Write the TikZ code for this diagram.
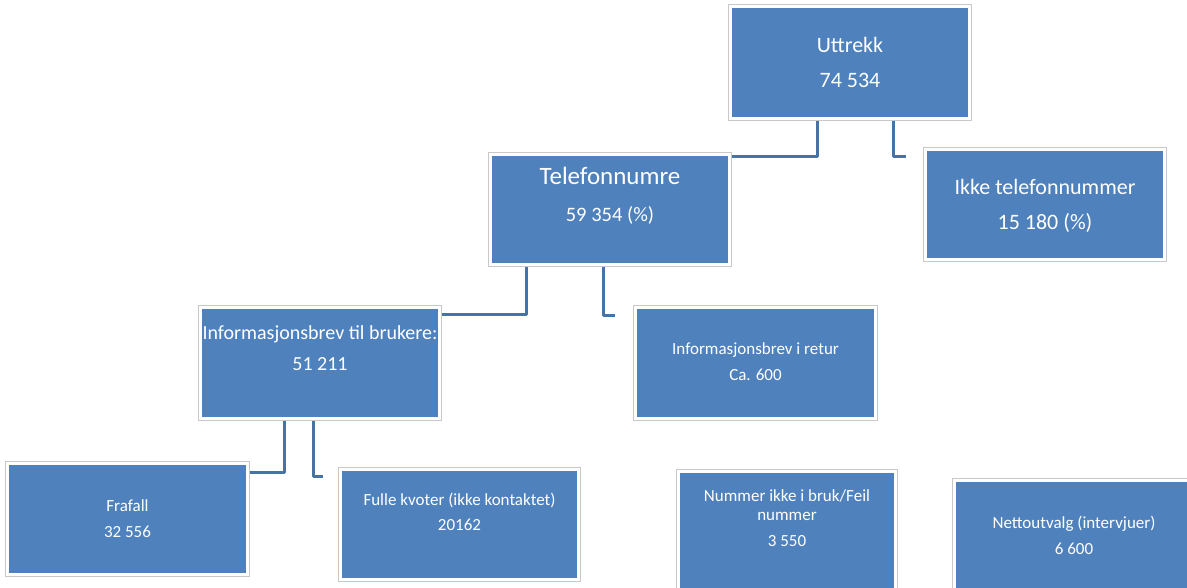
\documentclass[tikz,border=0pt]{standalone}
\usepackage{fontspec}
\setmainfont{Carlito}
\pgfdeclarelayer{bg}
\pgfsetlayers{bg,main}
\definecolor{boxblue}{HTML}{4F81BD}
\definecolor{boxgray}{HTML}{C8C8C8}
\definecolor{connblue}{HTML}{4573A8}
\tikzset{
  box/.style={rectangle, fill=boxblue, draw=white, line width=3pt,
    preaction={draw=boxgray, line width=5pt},
    inner sep=0pt, outer sep=0pt, minimum width=239pt, minimum height=110pt},
  conn/.style={draw=connblue, line width=3pt, line join=round},
  lbl/.style={text=white, anchor=base, inner sep=0pt},
  fa/.style={lbl, font=\fontsize{22}{26}\selectfont},
  fb/.style={lbl, font=\fontsize{25}{30}\selectfont},
  fc/.style={lbl, font=\fontsize{20.5}{24}\selectfont},
  fd/.style={lbl, font=\fontsize{20}{24}\selectfont},
  fe/.style={lbl, font=\fontsize{17}{20}\selectfont},
}
\begin{document}
\begin{tikzpicture}[x=1pt,y=-1pt]
\useasboundingbox (0,0) rectangle (1187,588);

% boxes
\node[box, minimum height=112pt] (u) at (850,62.5) {};
\node[box] (tel) at (610,209.5) {};
\node[box] (ikke) at (1045,204.5) {};
\node[box, minimum height=111pt] (info) at (320,363) {};
\node[box, minimum width=240pt, minimum height=111pt] (retur) at (755.5,363) {};
\node[box, minimum width=240pt, minimum height=111pt] (frafall) at (127.5,519) {};
\node[box, minimum width=238pt] (fulle) at (459.5,524.5) {};
\node[box, minimum width=217pt, minimum height=125pt] (nummer) at (787,534) {};
\node[box, minimum height=125pt] (netto) at (1074,543) {};

% texts
\node[fa] at (850,52.7) {Uttrekk};
\node[fa] at (850,87.3) {74 534};
\node[fb] at (610,185) {Telefonnumre};
\node[fc] at (610,221.7) {59 354 (\%)};
\node[fa] at (1045,194.3) {Ikke telefonnummer};
\node[fa] at (1045,229.3) {15 180 (\%)};
\node[fd] at (320,340) {Informasjonsbrev til brukere:};
\node[fd] at (320,370.7) {51 211};
\node[fe] at (755.5,355) {Informasjonsbrev i retur};
\node[fe] at (755.5,381) {Ca. 600};
\node[fe] at (127.5,511.7) {Frafall};
\node[fe] at (127.5,537.3) {32 556};
\node[fe] at (459.5,505) {Fulle kvoter (ikke kontaktet)};
\node[fe] at (459.5,530) {20162};
\node[fe] at (787,501.7) {Nummer ikke i bruk/Feil};
\node[fe] at (787,520) {nummer};
\node[fe] at (787,546) {3 550};
\node[fe] at (1074,528.3) {Nettoutvalg (intervjuer)};
\node[fe] at (1074,554) {6 600};

% free ends
\coordinate (ikkeend) at (906,157);
\coordinate (returend) at (615,316);
\coordinate (fulleend) at (323,476);

\begin{pgfonlayer}{bg}
\fill[white] (0,0) rectangle (1187,588);
\draw[conn] ([xshift=-33pt]u.south) |- ([yshift=-2.5pt]tel.north east);
\draw[conn] ([xshift=43pt]u.south) |- (ikkeend);
\draw[conn] ([xshift=-84pt]tel.south) |- ([yshift=-7.5pt]info.north east);
\draw[conn] ([xshift=-7pt]tel.south) |- (returend);
\draw[conn] ([xshift=-36pt]info.south) |- ([yshift=-8.5pt]frafall.north east);
\draw[conn] ([xshift=-7pt]info.south) |- (fulleend);
\end{pgfonlayer}
\end{tikzpicture}
\end{document}
